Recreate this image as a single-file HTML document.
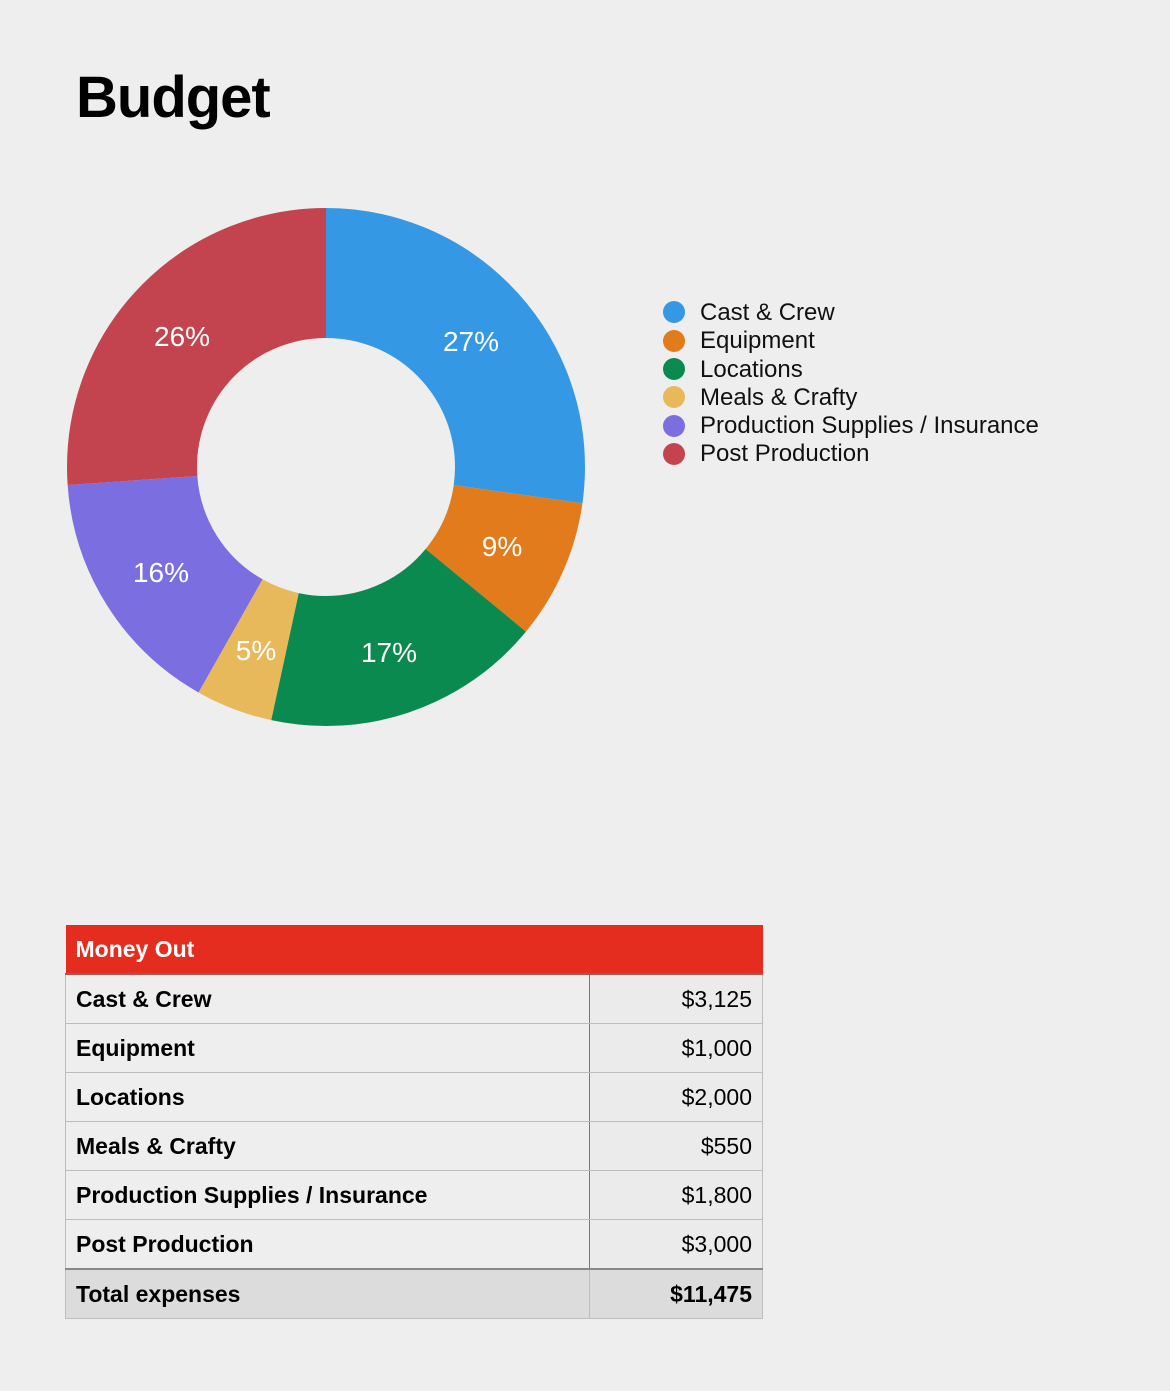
<!DOCTYPE html>
<html><head><meta charset="utf-8"><style>
html,body{margin:0;padding:0;background:#eeeeee;}
body{width:1170px;height:1391px;position:relative;font-family:"Liberation Sans",sans-serif;overflow:hidden;}
h1{position:absolute;left:76px;top:64px;margin:0;font-size:58px;font-weight:bold;color:#000;letter-spacing:-1px;}
.leg{position:absolute;left:700px;font-size:24px;color:#111;line-height:28px;}
.dot{position:absolute;left:663px;width:22px;height:22px;border-radius:50%;}
table{position:absolute;left:65px;top:925px;width:698px;border-collapse:collapse;font-size:23px;}
td{height:48px;border:1px solid #bdbdbd;padding:0 10px;color:#000;}
td.v{text-align:right;width:152px;background:#ebebeb;}
td.l{border-right:1.5px solid #777;font-weight:bold;}
th{background:#e52d1f;color:#fff;text-align:left;height:48px;padding:0 10px;font-size:23px;border-bottom:2px solid #a55;}
tr.t td{background:#dcdcdc;font-weight:bold;border-top:2px solid #888;}
</style></head><body>
<h1>Budget</h1>
<svg width="1170" height="800" style="position:absolute;left:0;top:0">
<g transform="rotate(-90 326 467)" fill="none" stroke-width="130">
<circle cx="326" cy="467" r="194" stroke="#3498e4" stroke-dasharray="331.95 1218.94" stroke-dashoffset="0"/>
<circle cx="326" cy="467" r="194" stroke="#e17b1c" stroke-dasharray="106.23 1218.94" stroke-dashoffset="-331.95"/>
<circle cx="326" cy="467" r="194" stroke="#0a8a4e" stroke-dasharray="212.45 1218.94" stroke-dashoffset="-438.18"/>
<circle cx="326" cy="467" r="194" stroke="#e8b95a" stroke-dasharray="58.42 1218.94" stroke-dashoffset="-650.63"/>
<circle cx="326" cy="467" r="194" stroke="#7b6ee0" stroke-dasharray="191.2 1218.94" stroke-dashoffset="-709.05"/>
<circle cx="326" cy="467" r="194" stroke="#c3444f" stroke-dasharray="318.69 1218.94" stroke-dashoffset="-900.25"/>
</g>
<g fill="#fff" font-size="28" font-family="Liberation Sans,sans-serif" text-anchor="middle">
<text x="471" y="351">27%</text>
<text x="502" y="556">9%</text>
<text x="389" y="662">17%</text>
<text x="256" y="660">5%</text>
<text x="161" y="582">16%</text>
<text x="182" y="346">26%</text>
</g>
</svg>
<div class="dot" style="top:301px;background:#3498e4"></div><div class="leg" style="top:299px">Cast &amp; Crew</div>
<div class="dot" style="top:330px;background:#e17b1c"></div><div class="leg" style="top:327px">Equipment</div>
<div class="dot" style="top:358px;background:#0a8a4e"></div><div class="leg" style="top:356px">Locations</div>
<div class="dot" style="top:386px;background:#e8b95a"></div><div class="leg" style="top:384px">Meals &amp; Crafty</div>
<div class="dot" style="top:415px;background:#7b6ee0"></div><div class="leg" style="top:412px">Production Supplies / Insurance</div>
<div class="dot" style="top:443px;background:#c3444f"></div><div class="leg" style="top:440px">Post Production</div>
<table>
<tr><th colspan="2">Money Out</th></tr>
<tr><td class="l">Cast &amp; Crew</td><td class="v">$3,125</td></tr>
<tr><td class="l">Equipment</td><td class="v">$1,000</td></tr>
<tr><td class="l">Locations</td><td class="v">$2,000</td></tr>
<tr><td class="l">Meals &amp; Crafty</td><td class="v">$550</td></tr>
<tr><td class="l">Production Supplies / Insurance</td><td class="v">$1,800</td></tr>
<tr><td class="l">Post Production</td><td class="v">$3,000</td></tr>
<tr class="t"><td>Total expenses</td><td class="v" style="background:#dcdcdc">$11,475</td></tr>
</table>
</body></html>
